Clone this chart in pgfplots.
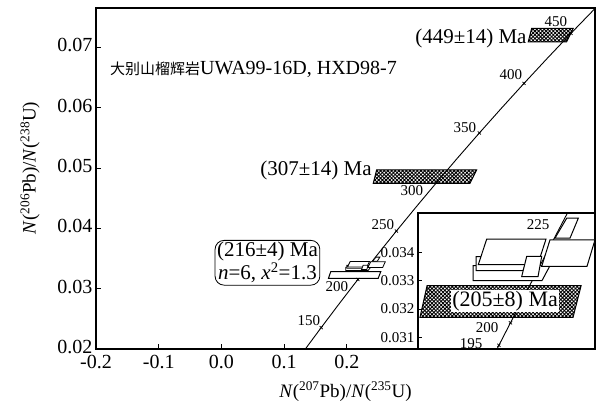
\documentclass[border=0pt]{standalone}
\usepackage{fontspec}
\setmainfont{Liberation Serif}
\newfontfamily\cjk{Noto Sans CJK SC}
\usepackage{pgfplots}
\pgfplotsset{compat=1.18}
\usetikzlibrary{patterns.meta}

\pgfplotstableread{
x y
0.125449 0.018789
0.131005 0.019580
0.136588 0.020371
0.159197 0.023542
0.188092 0.027519
0.211726 0.030712
0.217708 0.031511
0.223718 0.032312
0.229759 0.033113
0.235830 0.033914
0.241930 0.034716
0.248061 0.035520
0.254222 0.036323
0.279171 0.039543
0.311057 0.043583
0.343739 0.047637
0.377233 0.051708
0.411562 0.055795
0.446749 0.059897
0.482811 0.064016
0.519774 0.068150
0.557657 0.072301
0.596483 0.076467
0.604364 0.077302
}\concordia

\pgfplotstableread{
x y
0.159197 0.023542
0.217708 0.031511
0.279171 0.039543
0.343739 0.047637
0.411562 0.055795
0.482811 0.064016
0.557657 0.072301
}\agemarks

\pgfplotstableread{
x y
0.211726 0.030712
0.217708 0.031511
0.248061 0.035520
}\insetmarks

\begin{document}
\begin{tikzpicture}[x=1pt,y=1pt]
\begin{axis}[
  at={(96pt,59pt)}, anchor=south west,
  scale only axis, width=499pt, height=341pt,
  xmin=-0.2, xmax=0.596, ymin=0.02, ymax=0.0765,
  scaled ticks=false,
  xtick={-0.2,-0.1,0,0.1,0.2},
  xticklabels={-0.2,-0.1,0.0,0.1,0.2},
  ytick={0.02,0.03,0.04,0.05,0.06,0.07},
  yticklabels={0.02,0.03,0.04,0.05,0.06,0.07},
  tick align=inside, xtick pos=bottom, ytick pos=left,
  major tick length=5pt,
  tick style={line width=0.8pt, black},
  axis line style={line width=1.4pt},
  ticklabel style={font=\fontsize{20}{24}\selectfont},
  xticklabel style={yshift=-3pt},
  yticklabel style={yshift=2pt},
  xlabel={\textit{N}(\textsuperscript{207}Pb)/\textit{N}(\textsuperscript{235}U)},
  ylabel={\textit{N}(\textsuperscript{206}Pb)/\textit{N}(\textsuperscript{238}U)},
  label style={font=\fontsize{19}{23}\selectfont},
  x label style={at={(axis description cs:0.5,-0.125)}, anchor=center},
  y label style={at={(axis description cs:-0.132,0.531)}, anchor=center},
]
\addplot[black, line width=0.9pt, no marks] table {\concordia};
\addplot[black, only marks, mark=x, mark size=2.2pt, mark options={line width=0.7pt}] table {\agemarks};

\addplot[draw=black, line width=1pt, pattern={Hatch[angle=45,distance=2.6pt,line width=0.9pt]}] coordinates {(0.4949,0.07311)(0.5612,0.07311)(0.5507,0.07088)(0.4895,0.07088)} -- cycle;
\addplot[draw=black, line width=1pt, pattern={Hatch[angle=45,distance=2.6pt,line width=0.9pt]}] coordinates {(0.2477,0.04968)(0.4072,0.04968)(0.3965,0.04746)(0.2423,0.04746)} -- cycle;
\addplot[draw=black, line width=1pt, fill=white] coordinates {(0.1745,0.03283)(0.2543,0.03283)(0.2501,0.03170)(0.1708,0.03170)} -- cycle;
\addplot[draw=black, line width=0.8pt, fill=white] coordinates {(0.19830,0.033541)(0.23819,0.033541)(0.23405,0.033011)(0.19830,0.033011)} -- cycle;
\addplot[draw=black, line width=0.8pt, fill=white] coordinates {(0.19985,0.033859)(0.22679,0.033859)(0.22420,0.033364)(0.19985,0.033364)} -- cycle;
\addplot[draw=black, line width=0.8pt, fill=white] coordinates {(0.20540,0.034484)(0.23612,0.034484)(0.23182,0.033576)(0.20104,0.033576)} -- cycle;
\addplot[draw=black, line width=0.8pt, fill=white] coordinates {(0.24685,0.035226)(0.25286,0.035226)(0.24856,0.034519)(0.24078,0.034519)} -- cycle;
\addplot[draw=black, line width=0.8pt, fill=white] coordinates {(0.23819,0.034459)(0.26151,0.034459)(0.25736,0.033516)(0.23389,0.033516)} -- cycle;
\addplot[draw=black, line width=0.8pt, fill=white] coordinates {(0.22612,0.033869)(0.23389,0.033869)(0.23198,0.033152)(0.22353,0.033152)} -- cycle;

\node[font=\fontsize{21}{24}\selectfont, inner sep=0pt] at (axis cs:0.3981,0.0715) {(449±14) Ma};
\node[font=\fontsize{21}{24}\selectfont, inner sep=0pt] at (axis cs:0.1509,0.04957) {(307±14) Ma};
\node[anchor=west, inner sep=0pt, font=\fontsize{20}{24}\selectfont] at (axis cs:-0.1777,0.06635) {{\cjk\fontsize{15}{18}\selectfont 大别山榴辉岩}UWA99-16D, HXD98-7};
\node[draw, line width=0.8pt, rounded corners=9pt, align=center, inner sep=2pt, font=\fontsize{21}{23}\selectfont, fill=white] at (axis cs:0.0735,0.03429) {(216±4) Ma\\\textit{n}=6, \textit{x}\textsuperscript{2}=1.3};

\node[font=\fontsize{15}{18}\selectfont, inner sep=0pt] at (axis cs:0.5337,0.07432) {450};
\node[font=\fontsize{15}{18}\selectfont, inner sep=0pt] at (axis cs:0.4619,0.06551) {400};
\node[font=\fontsize{15}{18}\selectfont, inner sep=0pt] at (axis cs:0.3885,0.05671) {350};
\node[font=\fontsize{15}{18}\selectfont, inner sep=0pt] at (axis cs:0.3040,0.04625) {300};
\node[font=\fontsize{15}{18}\selectfont, inner sep=0pt] at (axis cs:0.2577,0.04060) {250};
\node[font=\fontsize{15}{18}\selectfont, inner sep=0pt] at (axis cs:0.1844,0.03030) {200};
\node[font=\fontsize{15}{18}\selectfont, inner sep=0pt] at (axis cs:0.1397,0.02465) {150};
\end{axis}

\begin{axis}[
  at={(418pt,59pt)}, anchor=south west,
  scale only axis, width=177pt, height=136pt,
  xmin=0.1698, xmax=0.2615, ymin=0.03058, ymax=0.03541,
  scaled ticks=false,
  xtick=\empty,
  ytick={0.031,0.032,0.033,0.034},
  yticklabels={0.031,0.032,0.033,0.034},
  tick align=inside, ytick pos=left,
  major tick length=4pt,
  tick style={line width=0.8pt, black},
  axis line style={line width=1.2pt},
  axis background/.style={fill=white},
  ticklabel style={font=\fontsize{15}{18}\selectfont},
]
\addplot[black, line width=0.9pt, no marks] table {\concordia};
\addplot[black, only marks, mark=x, mark size=2.2pt, mark options={line width=0.7pt}] table {\insetmarks};
\addplot[draw=black, line width=1pt, pattern={Hatch[angle=45,distance=2.6pt,line width=0.9pt]}] coordinates {(0.1745,0.03283)(0.2543,0.03283)(0.2501,0.03170)(0.1708,0.03170)} -- cycle;
\addplot[draw=black, line width=1pt, fill=white] coordinates {(0.19830,0.033541)(0.23819,0.033541)(0.23405,0.033011)(0.19830,0.033011)} -- cycle;
\addplot[draw=black, line width=1pt, fill=white] coordinates {(0.19985,0.033859)(0.22679,0.033859)(0.22420,0.033364)(0.19985,0.033364)} -- cycle;
\addplot[draw=black, line width=1pt, fill=white] coordinates {(0.20540,0.034484)(0.23612,0.034484)(0.23182,0.033576)(0.20104,0.033576)} -- cycle;
\addplot[draw=black, line width=1pt, fill=white] coordinates {(0.24685,0.035226)(0.25286,0.035226)(0.24856,0.034519)(0.24078,0.034519)} -- cycle;
\addplot[draw=black, line width=1pt, fill=white] coordinates {(0.23819,0.034459)(0.26151,0.034459)(0.25736,0.033516)(0.23389,0.033516)} -- cycle;
\addplot[draw=black, line width=1pt, fill=white] coordinates {(0.22612,0.033869)(0.23389,0.033869)(0.23198,0.033152)(0.22353,0.033152)} -- cycle;
\node[font=\fontsize{22}{24}\selectfont, fill=white, inner sep=1pt] at (axis cs:0.2149,0.032269) {(205±8) Ma};
\node[font=\fontsize{15}{18}\selectfont, inner sep=0pt] at (axis cs:0.23198,0.034989) {225};
\node[font=\fontsize{15}{18}\selectfont, inner sep=0pt] at (axis cs:0.20555,0.03135) {200};
\node[font=\fontsize{15}{18}\selectfont, inner sep=0pt] at (axis cs:0.19726,0.030784) {195};
\end{axis}
\pgfresetboundingbox
\useasboundingbox (0,0) rectangle (605,408);
\end{tikzpicture}
\end{document}
